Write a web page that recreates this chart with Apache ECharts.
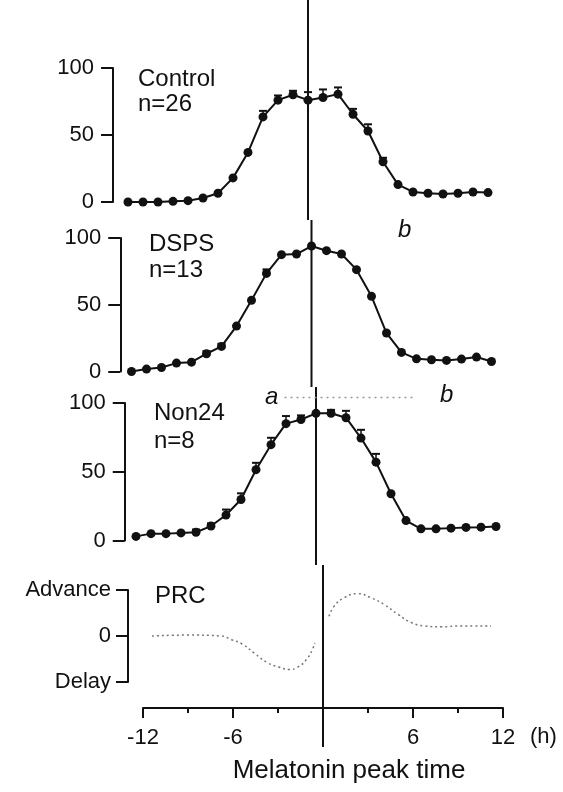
<!DOCTYPE html>
<html>
<head>
<meta charset="utf-8">
<style>
  html, body { margin: 0; padding: 0; background: #fff; }
  #chart { width: 563px; height: 792px; }
</style>
<script src="https://cdn.jsdelivr.net/npm/echarts@6/dist/echarts.min.js"></script>
</head>
<body>
<div id="chart"></div>
<script>
  // hours relative to melatonin peak
  const hours = [-12, -11, -10, -9, -8, -7, -6, -5, -4, -3, -2, -1, 0, 1, 2, 3, 4, 5, 6, 7, 8, 9, 10, 11, 12]

  const controlValues = [0, 0, 0, 0.5, 1, 3, 6.5, 18, 37, 63.5, 76, 80, 76, 78, 80.5, 65.5, 53, 30, 13, 7.5, 6.5, 6, 6.5, 7.5, 7]
  const controlErr = [0, 0, 0, 0, 0, 0, 0, 0, 0, 4.5, 3.5, 3, 6, 6, 5, 4, 5, 3, 0, 0, 0, 0, 0, 0, 0]

  const dspsValues = [0, 1.8, 3, 6.3, 7, 13.3, 18.8, 34, 53.3, 73.5, 87.5, 88, 94, 90.5, 88, 76.3, 56.3, 28.8, 14.3, 9.5, 8.8, 8.3, 9.3, 10.8, 7.5]
  const dspsErr = [0, 0, 0, 0, 0, 2, 2, 0, 0, 3, 0, 0, 0, 0, 0, 0, 0, 0, 0, 0, 0, 0, 0, 0, 0]

  const non24Values = [3, 5, 5, 5.5, 6, 10.5, 18.5, 29.8, 51.5, 69.7, 85, 88, 92.5, 92.5, 89.3, 74.5, 57, 34, 14.5, 8.5, 8.5, 9, 9.5, 9.7, 10.2]
  const non24Err = [0, 0, 0, 0, 2, 2, 4, 4.5, 5, 5, 5.5, 3, 0, 2.5, 5, 6, 6, 0, 0, 0, 0, 0, 0, 0, 0]

  // dotted "a ... b" range above the Non24 curve
  const non24Range = [-2.1, 6.7]
  const non24RangeLevel = 104

  // phase response curve (delay part, then advance part)
  const prcDelay = [[-11.4, 0], [-9, 0.02], [-6.8, 0], [-6.1, -0.08], [-5.35, -0.18], [-4.6, -0.37], [-3.7, -0.58],
    [-2.9, -0.68], [-2.25, -0.73], [-1.7, -0.68], [-1.1, -0.51], [-0.7, -0.29], [-0.55, -0.15]]
  const prcAdvance = [[0.4, 0.43], [0.75, 0.65], [1.4, 0.83], [2.3, 0.92], [3.2, 0.83], [4.1, 0.68], [5.0, 0.47],
    [5.9, 0.29], [6.75, 0.22], [7.9, 0.2], [9.2, 0.22], [11.2, 0.22]]
  const prcLabels = { '1': 'Advance', '0': '0', '-1': 'Delay' }

  const refHour = 0

  const ink = '#111'
  const font = 'Liberation Sans, Arial, Helvetica, sans-serif'
  const pxPerHour = 15

  // zero: x pixel of hour 0, gap: hours between y axis and -12, band: vertical reference line strip
  const panels = [
    { values: controlValues, err: controlErr, zero: 308, gap: 13, top: 68, height: 134, band: [0, 220] },
    { values: dspsValues, err: dspsErr, zero: 311.5, gap: 12.75, top: 238, height: 133.5, band: [220, 387] },
    { values: non24Values, err: non24Err, zero: 316, gap: 12.75, top: 403, height: 137.5, band: [387, 565] }
  ]
  const prcPanel = { zero: 323, gap: 13, top: 590, height: 92, band: [565, 747] }

  const grid = []
  const xAxis = []
  const yAxis = []
  const series = []

  function addGrid(left, width, top, height) {
    grid.push({ left: left, top: top, width: width, height: height, outerBoundsMode: 'none' })
    return grid.length - 1
  }

  function hiddenX(gi, min) {
    xAxis.push({ gridIndex: gi, type: 'value', min: min, max: 12, show: false, axisLine: { onZero: false } })
  }

  function addBand(p) {
    const left = p.zero - p.gap * pxPerHour
    const width = (p.gap + 12) * pxPerHour
    const gi = addGrid(left, width, p.band[0], p.band[1] - p.band[0])
    hiddenX(gi, -p.gap)
    yAxis.push({ gridIndex: gi, type: 'value', min: 0, max: 1, show: false, axisLine: { onZero: false } })
    series.push({
      type: 'line', xAxisIndex: gi, yAxisIndex: gi, silent: true, z: 1,
      data: [[refHour, 0], [refHour, 1]], symbol: 'none',
      lineStyle: { color: ink, width: 2 }
    })
  }

  const yAxisStyle = {
    type: 'value',
    position: 'left',
    axisLine: { show: true, onZero: false, lineStyle: { color: ink, width: 2 } },
    axisTick: { show: true, length: 12, lineStyle: { color: ink, width: 2 } },
    splitLine: { show: false },
    axisLabel: { color: ink, fontSize: 22, fontFamily: font, margin: 19 }
  }

  function errorBars(gi, values, err) {
    return {
      type: 'custom', xAxisIndex: gi, yAxisIndex: gi, z: 4, clip: false,
      data: hours.map((h, k) => [h, values[k], err[k]]).filter(d => d[2] > 0),
      renderItem: function (params, api) {
        const p0 = api.coord([api.value(0), api.value(1)])
        const p1 = api.coord([api.value(0), api.value(1) + api.value(2)])
        return {
          type: 'group',
          children: [
            { type: 'line', shape: { x1: p0[0], y1: p0[1], x2: p1[0], y2: p1[1] }, style: { stroke: ink, lineWidth: 1.5 } },
            { type: 'line', shape: { x1: p1[0] - 4, y1: p1[1], x2: p1[0] + 4, y2: p1[1] }, style: { stroke: ink, lineWidth: 2 } }
          ]
        }
      }
    }
  }

  panels.forEach(p => {
    const left = p.zero - p.gap * pxPerHour
    const width = (p.gap + 12) * pxPerHour
    const gi = addGrid(left, width, p.top, p.height)
    hiddenX(gi, -p.gap)
    yAxis.push(Object.assign({ gridIndex: gi, min: 0, max: 100, interval: 50 }, yAxisStyle))
    series.push({
      type: 'line', xAxisIndex: gi, yAxisIndex: gi, z: 3, clip: false,
      data: hours.map((h, k) => [h, p.values[k]]),
      symbol: 'circle', symbolSize: 9,
      itemStyle: { color: ink },
      lineStyle: { color: ink, width: 2 }
    })
    series.push(errorBars(gi, p.values, p.err))
    p.gridIndex = gi
    addBand(p)
  })

  // a ... b range in Non24 panel
  series.push({
    type: 'line', xAxisIndex: panels[2].gridIndex, yAxisIndex: panels[2].gridIndex, z: 2, clip: false,
    data: non24Range.map(h => [h, non24RangeLevel]), symbol: 'none',
    lineStyle: { color: '#999', width: 1.5, type: [2, 4] }
  })

  // PRC panel
  {
    const p = prcPanel
    const left = p.zero - p.gap * pxPerHour
    const width = (p.gap + 12) * pxPerHour
    const gi = addGrid(left, width, p.top, p.height)
    hiddenX(gi, -p.gap)
    const prcY = Object.assign({ gridIndex: gi, min: -1, max: 1, interval: 1 }, yAxisStyle)
    prcY.axisLabel = Object.assign({}, yAxisStyle.axisLabel, { margin: 17, formatter: v => prcLabels[String(v)] })
    yAxis.push(prcY)
    ;[prcDelay, prcAdvance].forEach(curve => {
      series.push({
        type: 'line', xAxisIndex: gi, yAxisIndex: gi, z: 2, clip: false,
        data: curve, smooth: true, symbol: 'none',
        lineStyle: { color: '#777', width: 1.5, type: [2, 3] }
      })
    })
    addBand(p)

    // bottom time axis
    const bi = addGrid(p.zero - 12 * pxPerHour, 24 * pxPerHour, 707, 1)
    xAxis.push({
      gridIndex: bi, type: 'value', min: -12, max: 12, interval: 6,
      axisLine: { show: true, onZero: false, lineStyle: { color: ink, width: 2 } },
      axisTick: { show: true, length: 10, lineStyle: { color: ink, width: 2 } },
      minorTick: { show: true, splitNumber: 2, length: 5, lineStyle: { color: ink, width: 2 } },
      splitLine: { show: false },
      minorSplitLine: { show: false },
      axisLabel: { color: ink, fontSize: 22, fontFamily: font, margin: 19, formatter: v => (v === 0 ? '' : String(v)) },
      name: '(h)', nameLocation: 'end', nameGap: 27,
      nameTextStyle: { color: ink, fontSize: 22, fontFamily: font, verticalAlign: 'top', padding: [18, 0, 0, 0] }
    })
    yAxis.push({ gridIndex: bi, type: 'value', min: 0, max: 1, show: false, axisLine: { onZero: false } })
    series.push({ type: 'line', xAxisIndex: bi, yAxisIndex: bi, data: [] })
  }

  function label(text, x, y, opts) {
    return {
      type: 'text', x: x, y: y, silent: true,
      style: Object.assign({ text: text, fill: ink, font: '24px ' + font, textVerticalAlign: 'middle' }, opts || {})
    }
  }

  const option = {
    animation: false,
    backgroundColor: '#fff',
    grid: grid,
    xAxis: xAxis,
    yAxis: yAxis,
    series: series,
    graphic: [
      label('Control', 138, 79),
      label('n=26', 138, 104),
      label('DSPS', 149, 244),
      label('n=13', 149, 270),
      label('Non24', 154, 413),
      label('n=8', 154, 441),
      label('PRC', 155, 596),
      label('b', 398, 230, { font: 'italic 24px ' + font }),
      label('a', 265, 397, { font: 'italic 24px ' + font }),
      label('b', 440, 395, { font: 'italic 24px ' + font }),
      label('Melatonin peak time', 349, 771, { font: '26px ' + font, textAlign: 'center' })
    ]
  }

  const chart = echarts.init(document.getElementById('chart'), null, { renderer: 'canvas' })
  chart.setOption(option)
</script>
</body>
</html>
